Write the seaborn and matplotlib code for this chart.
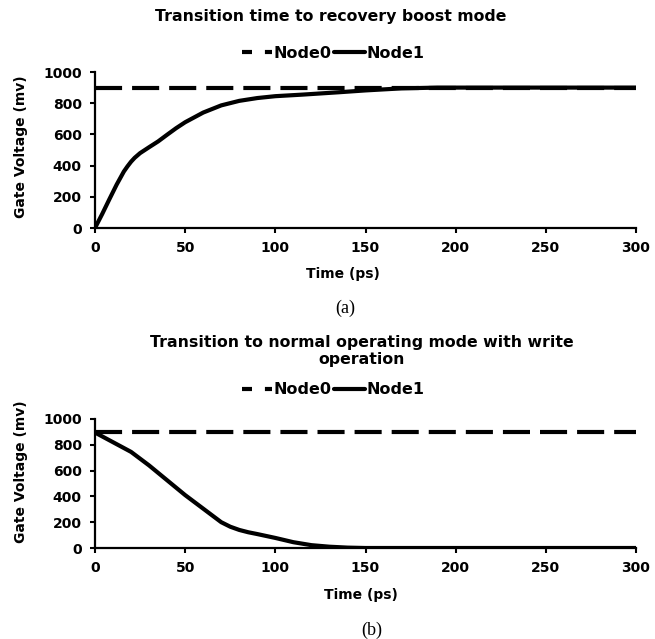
import numpy as np
import pandas as pd
import matplotlib
matplotlib.use("Agg")
import matplotlib.pyplot as plt
from matplotlib.lines import Line2D
import seaborn as sns

# ---- data ----
time_a = [0, 4, 8, 12, 16, 18, 20, 22, 25, 30, 35, 40, 45, 50, 60, 70, 80, 90, 100, 115, 135, 150, 170, 190, 300]
node1_a = [0, 90, 185, 278, 362, 395, 425, 450, 480, 518, 555, 598, 640, 678, 740, 786, 815, 833, 845, 855, 870, 882, 895, 900, 900]
time_b = [0, 10, 20, 30, 40, 50, 60, 70, 75, 80, 85, 90, 100, 110, 120, 130, 140, 150, 200, 300]
node1_b = [895, 820, 745, 640, 525, 410, 305, 200, 165, 140, 122, 108, 78, 45, 22, 10, 3, 0, 0, 0]
node0_time = [0, 300]
node0_val = [900, 900]

x_ticks = [0, 50, 100, 150, 200, 250, 300]
y_ticks = [0, 200, 400, 600, 800, 1000]
series = ["Node0", "Node1"]
titles = ["Transition time to recovery boost mode",
          "Transition to normal operating mode with write\noperation"]
captions = ["(a)", "(b)"]
xlabel = "Time (ps)"
ylabel = "Gate Voltage (mv)"

sns.set_style("ticks")
plt.rcParams["font.family"] = ["DejaVu Sans"]
plt.rcParams["font.weight"] = "bold"
plt.rcParams["text.color"] = "black"
plt.rcParams["axes.labelcolor"] = "black"
plt.rcParams["xtick.color"] = "black"
plt.rcParams["ytick.color"] = "black"
plt.rcParams["axes.edgecolor"] = "black"

W, H = 655, 639
fig = plt.figure(figsize=(W / 100, H / 100), dpi=100)

def frame(tA, vA):
    d0 = pd.DataFrame({"Time": node0_time, "Voltage": node0_val, "Node": "Node0"})
    d1 = pd.DataFrame({"Time": tA, "Voltage": vA, "Node": "Node1"})
    return pd.concat([d0, d1], ignore_index=True)

panels = [
    dict(df=frame(time_a, node1_a), ax=[95 / W, 1 - 228 / H, 541 / W, 156 / H],
         title=(331, 17), leg=(333, 53), xl=(343, 274), cap=(345.5, 308), yl_y=147),
    dict(df=frame(time_b, node1_b), ax=[95 / W, 1 - 548 / H, 541 / W, 129 / H],
         title=(362, 351), leg=(333, 390), xl=(361, 595), cap=(372, 630), yl_y=472),
]

main_dash = (6.5, 2.4)
for i, p in enumerate(panels):
    ax = fig.add_axes(p["ax"])
    sns.lineplot(data=p["df"], x="Time", y="Voltage", style="Node",
                 style_order=series, dashes={"Node0": main_dash, "Node1": ""},
                 color="black", linewidth=3, ax=ax, legend=False, sort=False)
    ax.set_xlim(0, 300)
    ax.set_ylim(0, 1000)
    ax.set_xticks(x_ticks)
    ax.set_yticks(y_ticks)
    ax.tick_params(axis="both", labelsize=10, length=3.5, width=1.5, pad=6,
                   color="black", labelcolor="black")
    for lab in ax.get_xticklabels() + ax.get_yticklabels():
        lab.set_fontweight("bold")
    ax.set_xlabel("")
    ax.set_ylabel("")
    for s in ["top", "right"]:
        ax.spines[s].set_visible(False)
    for s in ["left", "bottom"]:
        ax.spines[s].set_linewidth(1.6)
        ax.spines[s].set_color("black")

    fig.text(p["title"][0] / W, 1 - p["title"][1] / H, titles[i], ha="center", va="center",
             fontsize=11.3, fontweight="bold", linespacing=1.2, color="black")
    fig.text(p["xl"][0] / W, 1 - p["xl"][1] / H, xlabel, ha="center", va="center",
             fontsize=10, fontweight="bold", color="black")
    fig.text(21 / W, 1 - p["yl_y"] / H, ylabel, ha="center", va="center",
             rotation=90, fontsize=10, fontweight="bold", color="black")
    fig.text(p["cap"][0] / W, 1 - p["cap"][1] / H, captions[i], ha="center", va="center",
             fontsize=13, fontweight="normal", family=["Liberation Serif"], color="black")

    handles = [Line2D([0], [0], color="black", lw=3, dashes=(2.4, 3.1)),
               Line2D([0], [0], color="black", lw=3)]
    leg = fig.legend(handles, series, loc="center",
                     bbox_to_anchor=(p["leg"][0] / W, 1 - p["leg"][1] / H),
                     ncol=2, frameon=False, handlelength=1.9, handletextpad=0.1,
                     columnspacing=0.15, borderpad=0, prop={"weight": "bold", "size": 11.5})
    for t in leg.get_texts():
        t.set_color("black")

fig.savefig("out.png", dpi=100)
